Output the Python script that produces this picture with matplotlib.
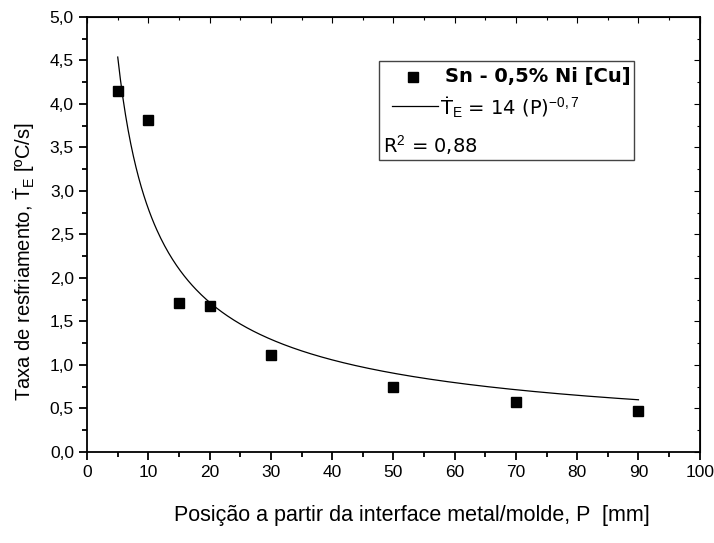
import numpy as np
import matplotlib
matplotlib.use("Agg")
import matplotlib.pyplot as plt
from matplotlib.patches import Rectangle
from matplotlib.ticker import MultipleLocator, FuncFormatter

# Dados experimentais (Sn - 0,5% Ni [Cu])
posicao = [5, 10, 15, 20, 30, 50, 70, 90]
taxa = [4.15, 3.82, 1.71, 1.68, 1.12, 0.75, 0.57, 0.47]

# Ajuste potencial T = 14 (P)^-0,7
coef_a = 14
coef_b = -0.7
p_min, p_max = 5, 90

plt.rcParams['font.family'] = ['Liberation Sans', 'DejaVu Sans']
plt.rcParams['mathtext.fontset'] = 'custom'
plt.rcParams['mathtext.rm'] = 'Liberation Sans'
plt.rcParams['mathtext.it'] = 'Liberation Sans:italic'

fig = plt.figure(figsize=(7.14, 5.43), dpi=100)
ax = fig.add_axes([0.122, 0.1676, 0.858, 0.8014])

p = np.linspace(p_min, p_max, 400)
ax.plot(p, coef_a * p ** coef_b, color='black', lw=0.9)
ax.plot(posicao, taxa, 's', color='black', ms=7.5)

ax.set_xlim(0, 100)
ax.set_ylim(0, 5)
ax.xaxis.set_major_locator(MultipleLocator(10))
ax.xaxis.set_minor_locator(MultipleLocator(5))
ax.yaxis.set_major_locator(MultipleLocator(0.5))
ax.yaxis.set_minor_locator(MultipleLocator(0.25))
ax.yaxis.set_major_formatter(FuncFormatter(lambda v, pos: f"{v:.1f}".replace('.', ',')))
ax.tick_params(which='major', direction='out', length=6, width=1.3, labelsize=12.5)
ax.tick_params(which='minor', direction='out', length=3.5, width=1.3)
for s in ax.spines.values():
    s.set_linewidth(1.3)

# eixos espelhados (topo e direita) com ticks para dentro
top = ax.secondary_xaxis('top')
top.xaxis.set_major_locator(MultipleLocator(10))
top.xaxis.set_minor_locator(MultipleLocator(5))
top.tick_params(which='both', direction='in', labeltop=False, width=0.8)
top.tick_params(which='major', length=4)
top.tick_params(which='minor', length=2)
right = ax.secondary_yaxis('right')
right.yaxis.set_major_locator(MultipleLocator(0.5))
right.yaxis.set_minor_locator(MultipleLocator(0.25))
right.tick_params(which='both', direction='in', labelright=False, width=0.8)
right.tick_params(which='major', length=4)
right.tick_params(which='minor', length=2)

ax.set_xlabel('Posição a partir da interface metal/molde, P  [mm]', fontsize=15.5, labelpad=18)
ax.xaxis.label.set_x(0.53)
ax.set_ylabel(r'Taxa de resfriamento, $\dot{\mathrm{T}}_{\mathrm{E}}$ [ºC/s]', fontsize=14.5, labelpad=9)
ax.yaxis.label.set_y(0.437)

# legenda
ax.add_patch(Rectangle((0.476, 0.671), 0.416, 0.228, transform=ax.transAxes,
                       fill=False, lw=1.0, edgecolor='#444444'))
ax.plot([0.532], [0.862], 's', color='black', ms=7.5, transform=ax.transAxes)
ax.text(0.584, 0.862, 'Sn - 0,5% Ni [Cu]', transform=ax.transAxes, fontsize=14,
        fontweight='bold', family='DejaVu Sans', va='center')
ax.plot([0.498, 0.573], [0.795, 0.795], color='black', lw=0.9, transform=ax.transAxes)
ax.text(0.576, 0.795, r'Ṫ$_{\mathrm{E}}$ = 14 (P)$^{-0,7}$', transform=ax.transAxes,
        fontsize=14, family='DejaVu Sans', va='center')
ax.text(0.483, 0.705, r'R$^{2}$ = 0,88', transform=ax.transAxes,
        fontsize=14, family='DejaVu Sans', va='center')

fig.savefig('out.png', dpi=100)
